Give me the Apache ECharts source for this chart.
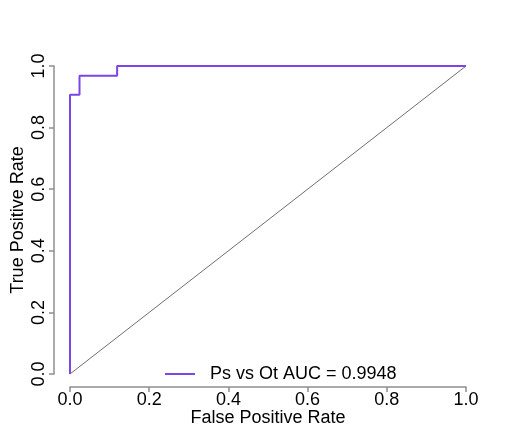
<!DOCTYPE html>
<html>
<head>
<meta charset="utf-8">
<script src="https://cdn.jsdelivr.net/npm/echarts@6/dist/echarts.min.js"></script>
<style>
  html, body { margin: 0; padding: 0; background: #ffffff; }
  #chart { width: 520px; height: 430px; }
</style>
</head>
<body>
<div id="chart"></div>
<script>
// ROC curve points (false positive rate, true positive rate)
var fpr = [0, 0, 0.024, 0.024, 0.119, 0.119, 1];
var tpr = [0, 0.907, 0.907, 0.968, 0.968, 1, 1];
// chance line
var chanceX = [0, 1];
var chanceY = [0, 1];
var tickValues = [0, 0.2, 0.4, 0.6, 0.8, 1.0];
var seriesName = 'Ps vs Ot AUC = 0.9948';
var xTitle = 'False Positive Rate';
var yTitle = 'True Positive Rate';

function pairs(xs, ys) {
  return xs.map(function (x, i) { return [x, ys[i]]; });
}

var FONT = '"Liberation Sans", Arial, Helvetica, sans-serif';
var AXIS_GREY = '#8f8f8f';

var chart = echarts.init(document.getElementById('chart'), null, { renderer: 'canvas' });

function axisCommon(title) {
  return {
    type: 'value',
    min: tickValues[0],
    max: tickValues[tickValues.length - 1],
    interval: 0.2,
    name: title,
    nameLocation: 'middle',
    nameMoveOverlap: false,
    nameTextStyle: { fontFamily: FONT, fontSize: 18, color: '#000' },
    axisLine: { show: true, onZero: false, lineStyle: { color: AXIS_GREY, width: 1.5 } },
    axisTick: { show: true, inside: false, length: 5, lineStyle: { color: AXIS_GREY, width: 1.5 } },
    axisLabel: {
      fontFamily: FONT, fontSize: 18, color: '#000',
      formatter: function (v) { return v.toFixed(1); }
    },
    splitLine: { show: false }
  };
}

// axes sit a little away from the data region, R style
var xAxis = axisCommon(xTitle);
xAxis.offset = 13;
xAxis.nameGap = 22;
xAxis.axisLabel.margin = 4;

var yAxis = axisCommon(yTitle);
yAxis.offset = 16;
yAxis.nameGap = 27;
yAxis.axisLabel.rotate = 90;
yAxis.axisLabel.margin = 6;

chart.setOption({
  animation: false,
  backgroundColor: '#ffffff',
  grid: { left: 70, right: 54, top: 66, bottom: 56, containLabel: false, outerBoundsMode: 'none' },
  xAxis: xAxis,
  yAxis: yAxis,
  legend: {
    data: [seriesName],
    left: 160,
    top: 360,
    icon: 'rect',
    itemWidth: 30,
    itemHeight: 2,
    textStyle: { fontFamily: FONT, fontSize: 18, color: '#000', padding: [0, 0, 0, 10] }
  },
  series: [
    {
      name: 'chance',
      type: 'line',
      data: pairs(chanceX, chanceY),
      showSymbol: false,
      symbol: 'none',
      clip: false,
      lineStyle: { color: '#6f6f6f', width: 1 },
      silent: true,
      z: 1
    },
    {
      name: seriesName,
      type: 'line',
      data: pairs(fpr, tpr),
      showSymbol: false,
      symbol: 'none',
      clip: false,
      color: '#7a46e6',
      lineStyle: { color: '#7a46e6', width: 2 },
      itemStyle: { color: '#7a46e6' },
      z: 2
    }
  ]
});
</script>
</body>
</html>
